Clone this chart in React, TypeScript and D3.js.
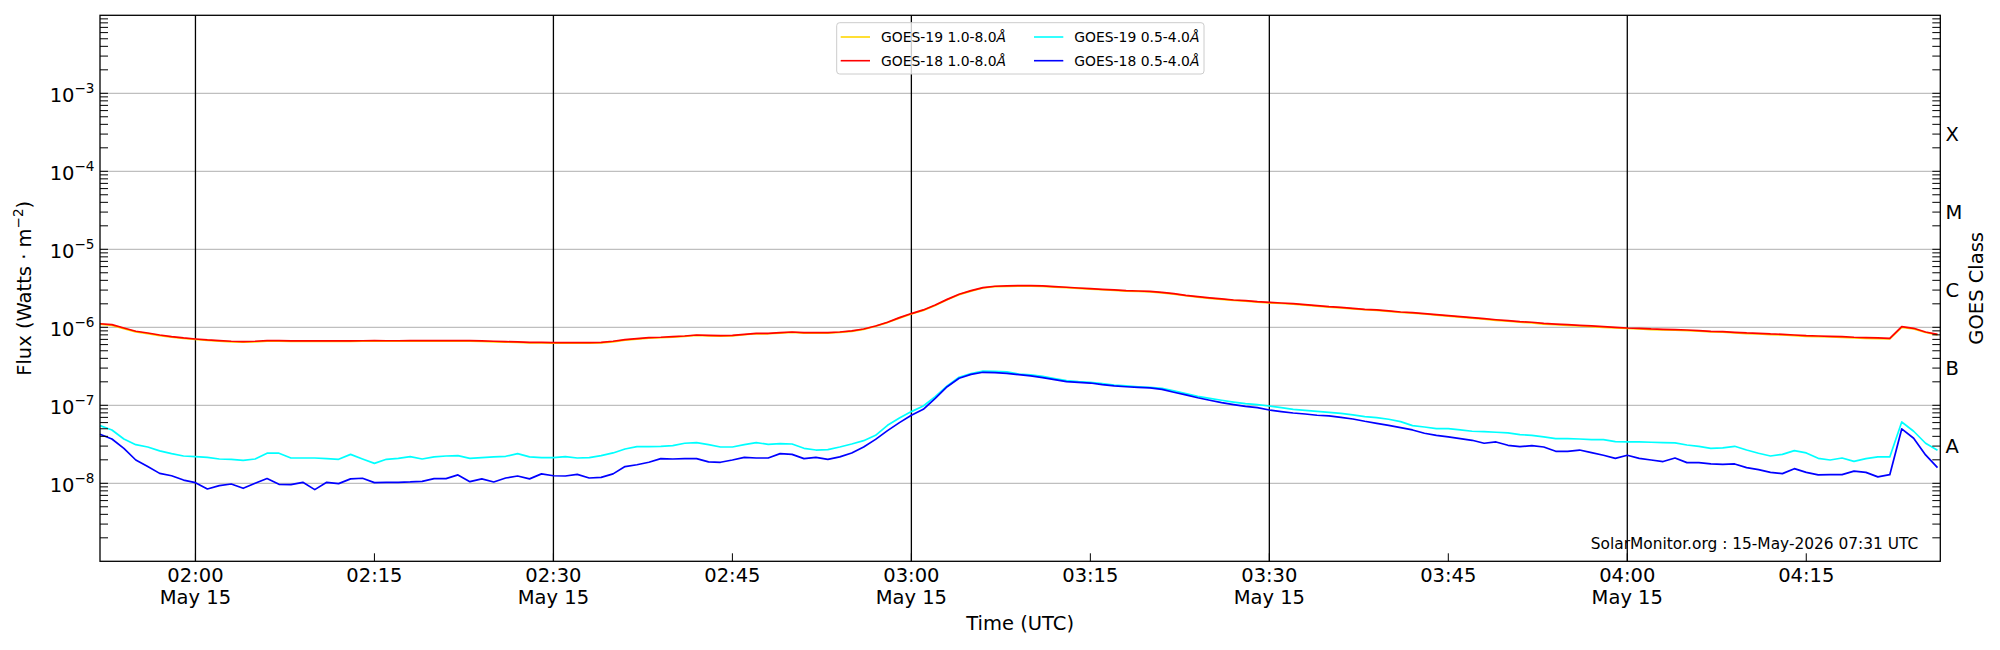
import React from "react";
import * as d3 from "d3";

// ---------- DATA (1-minute cadence, starting 2026-05-15 01:52 UTC) ----------
const startTime = "2026-05-15T01:52:00Z";
const xDomain = ["2026-05-15T01:52:00Z", "2026-05-15T04:26:14Z"];
const dateLabel = "May 15";

// GOES-18 1.0-8.0 Å (red)
const goes18Long = [
  1.11e-6, 1.08e-6, 9.8e-7, 8.9e-7, 8.45e-7, 7.97e-7, 7.59e-7, 7.3e-7, 7.08e-7, 6.88e-7,
  6.75e-7, 6.62e-7, 6.55e-7, 6.62e-7, 6.75e-7, 6.75e-7, 6.68e-7, 6.68e-7, 6.68e-7, 6.68e-7,
  6.68e-7, 6.68e-7, 6.72e-7, 6.75e-7, 6.72e-7, 6.72e-7, 6.75e-7, 6.75e-7, 6.75e-7, 6.75e-7,
  6.75e-7, 6.75e-7, 6.68e-7, 6.62e-7, 6.55e-7, 6.49e-7, 6.42e-7, 6.42e-7, 6.36e-7, 6.36e-7,
  6.36e-7, 6.36e-7, 6.42e-7, 6.62e-7, 6.95e-7, 7.16e-7, 7.38e-7, 7.45e-7, 7.59e-7, 7.74e-7,
  7.97e-7, 7.89e-7, 7.82e-7, 7.89e-7, 8.13e-7, 8.38e-7, 8.38e-7, 8.55e-7, 8.71e-7, 8.55e-7,
  8.55e-7, 8.55e-7, 8.71e-7, 8.98e-7, 9.52e-7, 1.04e-6, 1.16e-6, 1.33e-6, 1.5e-6, 1.67e-6,
  1.93e-6, 2.28e-6, 2.65e-6, 2.95e-6, 3.23e-6, 3.36e-6, 3.39e-6, 3.42e-6, 3.42e-6, 3.39e-6,
  3.32e-6, 3.26e-6, 3.19e-6, 3.13e-6, 3.07e-6, 3.01e-6, 2.95e-6, 2.92e-6, 2.89e-6, 2.81e-6,
  2.7e-6, 2.57e-6, 2.47e-6, 2.38e-6, 2.31e-6, 2.24e-6, 2.2e-6, 2.13e-6, 2.09e-6, 2.05e-6,
  2.01e-6, 1.95e-6, 1.9e-6, 1.84e-6, 1.8e-6, 1.75e-6, 1.7e-6, 1.67e-6, 1.62e-6, 1.57e-6,
  1.54e-6, 1.5e-6, 1.45e-6, 1.41e-6, 1.37e-6, 1.33e-6, 1.29e-6, 1.25e-6, 1.22e-6, 1.18e-6,
  1.16e-6, 1.12e-6, 1.1e-6, 1.08e-6, 1.06e-6, 1.04e-6, 1.02e-6, 1.0e-6, 9.8e-7, 9.71e-7,
  9.52e-7, 9.43e-7, 9.33e-7, 9.24e-7, 9.06e-7, 8.89e-7, 8.8e-7, 8.63e-7, 8.46e-7, 8.38e-7,
  8.22e-7, 8.13e-7, 7.97e-7, 7.82e-7, 7.74e-7, 7.67e-7, 7.59e-7, 7.45e-7, 7.38e-7, 7.3e-7,
  7.23e-7, 1.02e-6, 9.71e-7, 8.71e-7, 8.13e-7,
];

// GOES-19 1.0-8.0 Å (gold, mostly hidden under red)
const goes19Long = [
  1.1e-6, 1.06e-6, 9.6e-7, 8.75e-7, 8.3e-7, 7.82e-7, 7.45e-7, 7.18e-7, 6.98e-7, 6.8e-7,
  6.65e-7, 6.52e-7, 6.45e-7, 6.52e-7, 6.62e-7, 6.62e-7, 6.58e-7, 6.58e-7, 6.58e-7, 6.58e-7,
  6.58e-7, 6.58e-7, 6.62e-7, 6.65e-7, 6.62e-7, 6.62e-7, 6.65e-7, 6.65e-7, 6.65e-7, 6.65e-7,
  6.65e-7, 6.65e-7, 6.58e-7, 6.52e-7, 6.45e-7, 6.4e-7, 6.33e-7, 6.33e-7, 6.27e-7, 6.27e-7,
  6.27e-7, 6.27e-7, 6.33e-7, 6.52e-7, 6.85e-7, 7.06e-7, 7.28e-7, 7.35e-7, 7.48e-7, 7.63e-7,
  7.86e-7, 7.78e-7, 7.71e-7, 7.78e-7, 8.02e-7, 8.26e-7, 8.26e-7, 8.43e-7, 8.59e-7, 8.43e-7,
  8.43e-7, 8.43e-7, 8.59e-7, 8.86e-7, 9.4e-7, 1.03e-6, 1.15e-6, 1.31e-6, 1.48e-6, 1.65e-6,
  1.9e-6, 2.25e-6, 2.62e-6, 2.91e-6, 3.19e-6, 3.32e-6, 3.35e-6, 3.38e-6, 3.38e-6, 3.35e-6,
  3.28e-6, 3.22e-6, 3.15e-6, 3.09e-6, 3.03e-6, 2.97e-6, 2.91e-6, 2.88e-6, 2.85e-6, 2.77e-6,
  2.66e-6, 2.54e-6, 2.44e-6, 2.35e-6, 2.28e-6, 2.21e-6, 2.17e-6, 2.1e-6, 2.06e-6, 2.02e-6,
  1.98e-6, 1.92e-6, 1.87e-6, 1.81e-6, 1.77e-6, 1.72e-6, 1.68e-6, 1.65e-6, 1.6e-6, 1.55e-6,
  1.52e-6, 1.48e-6, 1.43e-6, 1.39e-6, 1.35e-6, 1.31e-6, 1.27e-6, 1.23e-6, 1.2e-6, 1.16e-6,
  1.14e-6, 1.1e-6, 1.08e-6, 1.06e-6, 1.04e-6, 1.02e-6, 1.0e-6, 9.85e-7, 9.65e-7, 9.55e-7,
  9.36e-7, 9.27e-7, 9.17e-7, 9.08e-7, 8.9e-7, 8.73e-7, 8.64e-7, 8.47e-7, 8.3e-7, 8.22e-7,
  8.06e-7, 7.97e-7, 7.81e-7, 7.66e-7, 7.58e-7, 7.51e-7, 7.43e-7, 7.3e-7, 7.23e-7, 7.15e-7,
  7.08e-7, 1.0e-6, 9.55e-7, 8.57e-7, 8.0e-7,
];

// GOES-19 0.5-4.0 Å (cyan)
const goes19Short = [
  5.48e-8, 4.83e-8, 3.7e-8, 3.13e-8, 2.92e-8, 2.6e-8, 2.4e-8, 2.24e-8, 2.2e-8, 2.15e-8,
  2.05e-8, 2.03e-8, 1.97e-8, 2.05e-8, 2.43e-8, 2.43e-8, 2.11e-8, 2.11e-8, 2.11e-8, 2.07e-8,
  2.03e-8, 2.35e-8, 2.05e-8, 1.8e-8, 2.03e-8, 2.09e-8, 2.2e-8, 2.05e-8, 2.18e-8, 2.24e-8,
  2.26e-8, 2.09e-8, 2.13e-8, 2.18e-8, 2.22e-8, 2.4e-8, 2.18e-8, 2.13e-8, 2.13e-8, 2.2e-8,
  2.11e-8, 2.13e-8, 2.26e-8, 2.45e-8, 2.75e-8, 2.95e-8, 2.95e-8, 2.98e-8, 3.04e-8, 3.26e-8,
  3.32e-8, 3.13e-8, 2.92e-8, 2.92e-8, 3.13e-8, 3.32e-8, 3.16e-8, 3.23e-8, 3.19e-8, 2.81e-8,
  2.67e-8, 2.7e-8, 2.92e-8, 3.19e-8, 3.52e-8, 4.12e-8, 5.54e-8, 6.89e-8, 8.3e-8, 9.8e-8,
  1.29e-7, 1.77e-7, 2.29e-7, 2.55e-7, 2.75e-7, 2.73e-7, 2.68e-7, 2.52e-7, 2.45e-7, 2.35e-7,
  2.2e-7, 2.07e-7, 2.01e-7, 1.97e-7, 1.9e-7, 1.82e-7, 1.77e-7, 1.73e-7, 1.7e-7, 1.65e-7,
  1.53e-7, 1.41e-7, 1.3e-7, 1.23e-7, 1.16e-7, 1.1e-7, 1.05e-7, 1.02e-7, 9.8e-8, 9.33e-8,
  8.89e-8, 8.63e-8, 8.38e-8, 8.13e-8, 7.89e-8, 7.52e-8, 7.16e-8, 6.95e-8, 6.62e-8, 6.18e-8,
  5.48e-8, 5.27e-8, 5.02e-8, 5.02e-8, 4.83e-8, 4.65e-8, 4.6e-8, 4.51e-8, 4.42e-8, 4.21e-8,
  4.12e-8, 3.93e-8, 3.74e-8, 3.74e-8, 3.7e-8, 3.63e-8, 3.63e-8, 3.42e-8, 3.39e-8, 3.39e-8,
  3.36e-8, 3.32e-8, 3.29e-8, 3.1e-8, 2.98e-8, 2.81e-8, 2.84e-8, 2.98e-8, 2.67e-8, 2.43e-8,
  2.24e-8, 2.35e-8, 2.62e-8, 2.45e-8, 2.09e-8, 1.99e-8, 2.11e-8, 1.91e-8, 2.07e-8, 2.18e-8,
  2.18e-8, 6.11e-8, 4.65e-8, 3.26e-8, 2.65e-8,
];

// GOES-18 0.5-4.0 Å (blue)
const goes18Short = [
  4.25e-8, 3.7e-8, 2.81e-8, 1.99e-8, 1.64e-8, 1.34e-8, 1.25e-8, 1.1e-8, 1.02e-8, 8.46e-9,
  9.33e-9, 9.8e-9, 8.63e-9, 1.0e-8, 1.15e-8, 9.7e-9, 9.6e-9, 1.03e-8, 8.3e-9, 1.03e-8,
  9.9e-9, 1.14e-8, 1.16e-8, 1.02e-8, 1.03e-8, 1.03e-8, 1.04e-8, 1.06e-8, 1.15e-8, 1.15e-8,
  1.28e-8, 1.05e-8, 1.14e-8, 1.04e-8, 1.17e-8, 1.24e-8, 1.14e-8, 1.32e-8, 1.25e-8, 1.24e-8,
  1.3e-8, 1.17e-8, 1.19e-8, 1.32e-8, 1.64e-8, 1.73e-8, 1.86e-8, 2.07e-8, 2.05e-8, 2.07e-8,
  2.07e-8, 1.88e-8, 1.86e-8, 1.99e-8, 2.15e-8, 2.11e-8, 2.11e-8, 2.4e-8, 2.35e-8, 2.07e-8,
  2.15e-8, 2.03e-8, 2.18e-8, 2.45e-8, 2.92e-8, 3.66e-8, 4.73e-8, 6.0e-8, 7.45e-8, 8.89e-8,
  1.23e-7, 1.73e-7, 2.22e-7, 2.49e-7, 2.65e-7, 2.62e-7, 2.57e-7, 2.47e-7, 2.38e-7, 2.26e-7,
  2.13e-7, 2.01e-7, 1.97e-7, 1.93e-7, 1.84e-7, 1.77e-7, 1.73e-7, 1.7e-7, 1.67e-7, 1.6e-7,
  1.47e-7, 1.36e-7, 1.25e-7, 1.16e-7, 1.08e-7, 1.02e-7, 9.7e-8, 9.33e-8, 8.71e-8, 8.3e-8,
  7.97e-8, 7.74e-8, 7.45e-8, 7.3e-8, 7.02e-8, 6.68e-8, 6.24e-8, 5.88e-8, 5.54e-8, 5.17e-8,
  4.83e-8, 4.38e-8, 4.12e-8, 3.93e-8, 3.74e-8, 3.56e-8, 3.26e-8, 3.39e-8, 3.07e-8, 2.95e-8,
  3.04e-8, 2.92e-8, 2.57e-8, 2.57e-8, 2.67e-8, 2.47e-8, 2.29e-8, 2.09e-8, 2.29e-8, 2.09e-8,
  1.99e-8, 1.9e-8, 2.11e-8, 1.84e-8, 1.84e-8, 1.77e-8, 1.75e-8, 1.77e-8, 1.59e-8, 1.5e-8,
  1.38e-8, 1.33e-8, 1.54e-8, 1.38e-8, 1.28e-8, 1.29e-8, 1.29e-8, 1.43e-8, 1.38e-8, 1.21e-8,
  1.29e-8, 4.98e-8, 3.78e-8, 2.31e-8, 1.59e-8,
];

const yTickExponents = [-8, -7, -6, -5, -4, -3];
const goesClasses = ["A", "B", "C", "M", "X"];
const goesClassLevels = [3e-8, 3e-7, 3e-6, 3e-5, 3e-4];

const seriesNames = [
  "GOES-19 1.0-8.0",
  "GOES-18 1.0-8.0",
  "GOES-19 0.5-4.0",
  "GOES-18 0.5-4.0",
];
const seriesColors = ["#ffd700", "#ff0000", "#00ffff", "#0000ff"];
const seriesData = [goes19Long, goes18Long, goes19Short, goes18Short];

const watermark = "SolarMonitor.org : 15-May-2026 07:31 UTC";

// ---------- LAYOUT ----------
const W = 2000;
const H = 650;
const L = 100;
const R = 1940.3;
const T = 15.3;
const B = 561.3;
const FONT = "'DejaVu Sans', sans-serif";
const FS = 19.5;
const SUP = 13.6;

export default function App() {
  const t0 = new Date(startTime).getTime();
  const x = d3
    .scaleUtc()
    .domain(xDomain.map((s) => new Date(s)))
    .range([L, R]);
  const y = d3.scaleLog().domain([1e-9, 1e-2]).range([B, T]);

  const xTicks = d3.utcMinute.every(15)!.range(x.domain()[0], x.domain()[1]);
  const fmt = d3.utcFormat("%H:%M");

  const minorTicks: number[] = [];
  for (let e = -9; e < -2; e++) {
    for (let m = 2; m <= 9; m++) minorTicks.push(m * Math.pow(10, e));
  }
  const gridLevels = [-8, -7, -6, -5, -4, -3].map((e) => Math.pow(10, e));

  const line = d3
    .line<number>()
    .x((_, i) => x(new Date(t0 + i * 60000)))
    .y((v) => y(v));

  const tickLen = 8;

  return (
    <svg
      width={W}
      height={H}
      style={{ position: "absolute", left: 0, top: 0, background: "#fff" }}
      fontFamily={FONT}
    >
      <rect x={0} y={0} width={W} height={H} fill="#fff" />
      {/* horizontal grid */}
      {gridLevels.map((v, i) => (
        <line key={"g" + i} x1={L} x2={R} y1={y(v)} y2={y(v)} stroke="#b0b0b0" strokeWidth={1} />
      ))}
      {/* vertical 30-min lines */}
      {xTicks
        .filter((d) => d.getUTCMinutes() % 30 === 0)
        .map((d, i) => (
          <line key={"v" + i} x1={x(d)} x2={x(d)} y1={T} y2={B} stroke="#000" strokeWidth={1.3} />
        ))}
      {/* data */}
      <g fill="none" strokeWidth={1.7} strokeLinejoin="round">
        {seriesData.map((s, i) => (
          <path key={"s" + i} d={line(s) || ""} stroke={seriesColors[i]} />
        ))}
      </g>
      {/* ticks */}
      {xTicks.map((d, i) => (
        <line key={"xt" + i} x1={x(d)} x2={x(d)} y1={B} y2={B - tickLen} stroke="#000" strokeWidth={1} />
      ))}
      {minorTicks.map((v, i) => (
        <g key={"mt" + i}>
          <line x1={L} x2={L + tickLen} y1={y(v)} y2={y(v)} stroke="#000" strokeWidth={1} />
          <line x1={R} x2={R - tickLen} y1={y(v)} y2={y(v)} stroke="#000" strokeWidth={1} />
        </g>
      ))}
      {gridLevels.map((v, i) => (
        <g key={"Mt" + i}>
          <line x1={L} x2={L + tickLen} y1={y(v)} y2={y(v)} stroke="#000" strokeWidth={1} />
          <line x1={R} x2={R - tickLen} y1={y(v)} y2={y(v)} stroke="#000" strokeWidth={1} />
        </g>
      ))}
      {/* frame */}
      <rect x={L} y={T} width={R - L} height={B - T} fill="none" stroke="#000" strokeWidth={1.3} />
      {/* x tick labels */}
      {xTicks.map((d, i) => (
        <g key={"xl" + i} fontSize={FS} textAnchor="middle">
          <text x={x(d)} y={581.7}>{fmt(d)}</text>
          {d.getUTCMinutes() % 30 === 0 && (
            <text x={x(d)} y={604.3}>{dateLabel}</text>
          )}
        </g>
      ))}
      {/* y tick labels */}
      {yTickExponents.map((e, i) => {
        const yy = y(Math.pow(10, e));
        return (
          <text key={"yl" + i} x={94.5} y={yy + 8.4} textAnchor="end" fontSize={FS}>
            10<tspan dy={-8.4} fontSize={SUP}>{"\u2212" + Math.abs(e)}</tspan>
          </text>
        );
      })}
      {/* GOES class labels */}
      {goesClasses.map((c, i) => (
        <text key={"gc" + i} x={1945.5} y={y(goesClassLevels[i]) + 7} fontSize={FS}>
          {c}
        </text>
      ))}
      {/* axis labels */}
      <text x={(L + R) / 2} y={630} textAnchor="middle" fontSize={FS}>
        Time (UTC)
      </text>
      <text transform={`translate(31,${(T + B) / 2}) rotate(-90)`} textAnchor="middle" fontSize={FS}>
        Flux (Watts · m<tspan dy={-8} fontSize={SUP}>{"\u22122"}</tspan>
        <tspan dy={8} fontSize={FS}>)</tspan>
      </text>
      <text transform={`translate(1983,${(T + B) / 2}) rotate(-90)`} textAnchor="middle" fontSize={FS}>
        GOES Class
      </text>
      {/* watermark */}
      <text x={1918.3} y={549} textAnchor="end" fontSize={15.4}>
        {watermark}
      </text>
      {/* legend */}
      <g>
        <rect x={836.7} y={22.7} width={367.3} height={51.3} rx={3} fill="#fff" fillOpacity={0.8} stroke="#cccccc" strokeWidth={1} />
        {seriesNames.map((n, i) => {
          const col = Math.floor(i / 2);
          const row = i % 2;
          const lx = col === 0 ? 840.7 : 1034;
          const ly = row === 0 ? 37 : 60.7;
          return (
            <g key={"lg" + i}>
              <line x1={lx} x2={lx + 29.3} y1={ly} y2={ly} stroke={seriesColors[i]} strokeWidth={1.6} />
              <text x={lx + 40.3} y={ly + 5} fontSize={13.9}>
                {n}
                <tspan fontStyle="italic">Å</tspan>
              </text>
            </g>
          );
        })}
      </g>
    </svg>
  );
}
